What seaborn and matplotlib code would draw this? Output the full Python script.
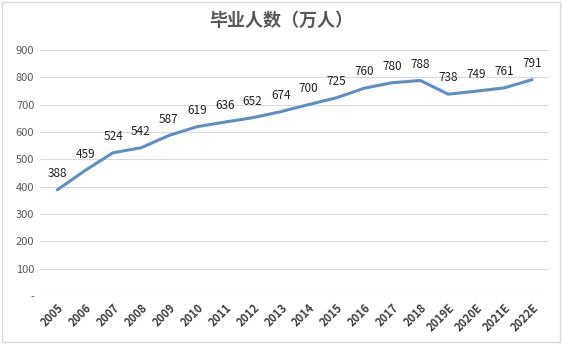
import matplotlib
matplotlib.use("Agg")
import matplotlib.pyplot as plt
import seaborn as sns
import pandas as pd

years = ["2005", "2006", "2007", "2008", "2009", "2010", "2011", "2012", "2013",
         "2014", "2015", "2016", "2017", "2018", "2019E", "2020E", "2021E", "2022E"]
graduates = [388, 459, 524, 542, 587, 619, 636, 652, 674,
             700, 725, 760, 780, 788, 738, 749, 761, 791]
yticks = [0, 100, 200, 300, 400, 500, 600, 700, 800, 900]
ytick_labels = ["-", "100", "200", "300", "400", "500", "600", "700", "800", "900"]
title = "毕业人数（万人）"

sns.set_theme(style="white")
plt.rcParams["font.family"] = ["Noto Sans CJK SC", "DejaVu Sans"]

df = pd.DataFrame({"year": years, "value": graduates})
df["pos"] = range(len(years))

fig = plt.figure(figsize=(5.62, 3.44), dpi=100)
ax = fig.add_axes([0.071, 0.1395, 0.904, 0.7155])

sns.lineplot(data=df, x="pos", y="value", ax=ax, color="#5b8fc9", linewidth=2.2)

for p, v in zip(df["pos"], df["value"]):
    ax.annotate(str(v), (p, v), xytext=(0, 7), textcoords="offset points",
                ha="center", va="bottom", fontsize=8.5, color="#222222")

ax.set_xlim(-0.62, 17.57)
ax.set_ylim(0, 900)
ax.set_yticks(yticks)
ax.set_yticklabels(ytick_labels, fontsize=8, color="#595959")
ax.set_xticks(df["pos"])
ax.set_xticklabels(years, rotation=45, ha="right", rotation_mode="anchor",
                   fontsize=8, color="#404040", fontweight="bold")
ax.tick_params(axis="both", length=0, pad=4)
ax.grid(axis="y", color="#d9d9d9", linewidth=0.8)
ax.set_axisbelow(True)
for s in ax.spines.values():
    s.set_visible(False)
ax.set_xlabel("")
ax.set_ylabel("")

fig.text(0.5, 0.94, title, ha="center", va="center", fontsize=13,
         fontweight="bold", color="#595959")

border = plt.Rectangle((0.004, 0.006), 0.992, 0.988, transform=fig.transFigure,
                       fill=False, edgecolor="#d9d9d9", linewidth=1)
fig.patches.append(border)

fig.savefig("out.png", dpi=100)
